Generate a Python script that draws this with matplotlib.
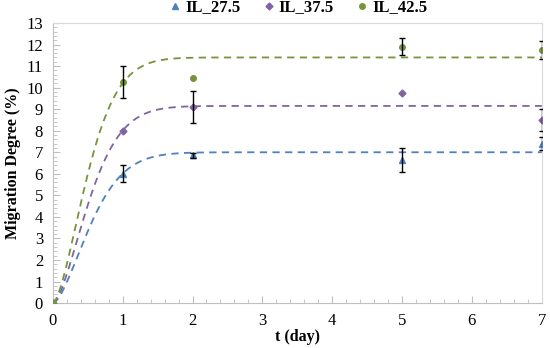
import matplotlib.pyplot as plt
import numpy as np
from matplotlib.ticker import MultipleLocator

# Measured migration degree (%) vs time (day)
t_days = [0, 1, 2, 5, 7]
il_27 = [0, 6.0, 6.85, 6.65, 7.4]
il_27_err = [0, 0.4, 0.1, 0.55, 0.3]
il_37 = [0, 8.0, 9.1, 9.75, 8.5]
il_37_err = [0, 0, 0.75, 0, 0.5]
il_42 = [0, 10.25, 10.45, 11.9, 11.75]
il_42_err = [0, 0.75, 0, 0.4, 0.4]

# Fitted model y = A * (1 - exp(-(k t)^n)) : plateau and rate for each series
fit_plateau = [7.0, 9.15, 11.4]
fit_rate = [1.52, 1.58, 1.66]
fit_power = 1.6

labels = ["IL_27.5", "IL_37.5", "IL_42.5"]
colors = ["#4F81BD", "#8064A2", "#77933C"]
markers = ["^", "D", "o"]
sizes = [4.5, 3.5, 4]

plt.rcParams['font.family'] = ['Liberation Serif', 'DejaVu Serif']

fig = plt.figure(figsize=(5.5, 3.48), dpi=100)
ax = fig.add_axes([0.096, 0.129, 0.889, 0.805])

tt = np.linspace(0, 7, 300)
series = [(il_27, il_27_err), (il_37, il_37_err), (il_42, il_42_err)]
for i, (vals, errs) in enumerate(series):
    fit = fit_plateau[i] * (1 - np.exp(-(fit_rate[i] * tt) ** fit_power))
    ax.plot(tt, fit, color=colors[i], linestyle=(0, (4, 3)), linewidth=1.3, zorder=2)
    ax.plot(t_days, vals, linestyle="none", marker=markers[i], color=colors[i],
            markersize=sizes[i], label=labels[i], zorder=3)
    # only the points that carry an error bar
    idx = [j for j, e in enumerate(errs) if e > 0]
    ax.errorbar([t_days[j] for j in idx], [vals[j] for j in idx], yerr=[errs[j] for j in idx],
                fmt="none", ecolor="black", elinewidth=1, capsize=2.5, capthick=1, zorder=4)

ax.set_xlim(0, 7)
ax.set_ylim(0, 13)
ax.xaxis.set_major_locator(MultipleLocator(1))
ax.xaxis.set_minor_locator(MultipleLocator(0.2))
ax.yaxis.set_major_locator(MultipleLocator(1))
ax.yaxis.set_minor_locator(MultipleLocator(0.2))
ax.tick_params(which="both", direction="in", color="#BFBFBF", labelsize=12, pad=7)
ax.tick_params(which="major", length=5)
ax.tick_params(which="minor", length=3)
for s in ax.spines.values():
    s.set_color("#D9D9D9")
ax.spines["left"].set_color("#BFBFBF")
ax.spines["bottom"].set_color("#BFBFBF")

ax.set_xlabel("t (day)", fontsize=11.5, fontweight="bold", labelpad=0)
ax.set_ylabel("Migration Degree (%)", fontsize=11.5, fontweight="bold", labelpad=4)

ax.legend(loc="lower center", bbox_to_anchor=(0.5, 1.0), ncol=3, frameon=False,
          prop={"weight": "bold", "size": 12}, handletextpad=0.1,
          columnspacing=1.2, borderaxespad=0.05, handlelength=1)

fig.savefig("out.png", dpi=100)
